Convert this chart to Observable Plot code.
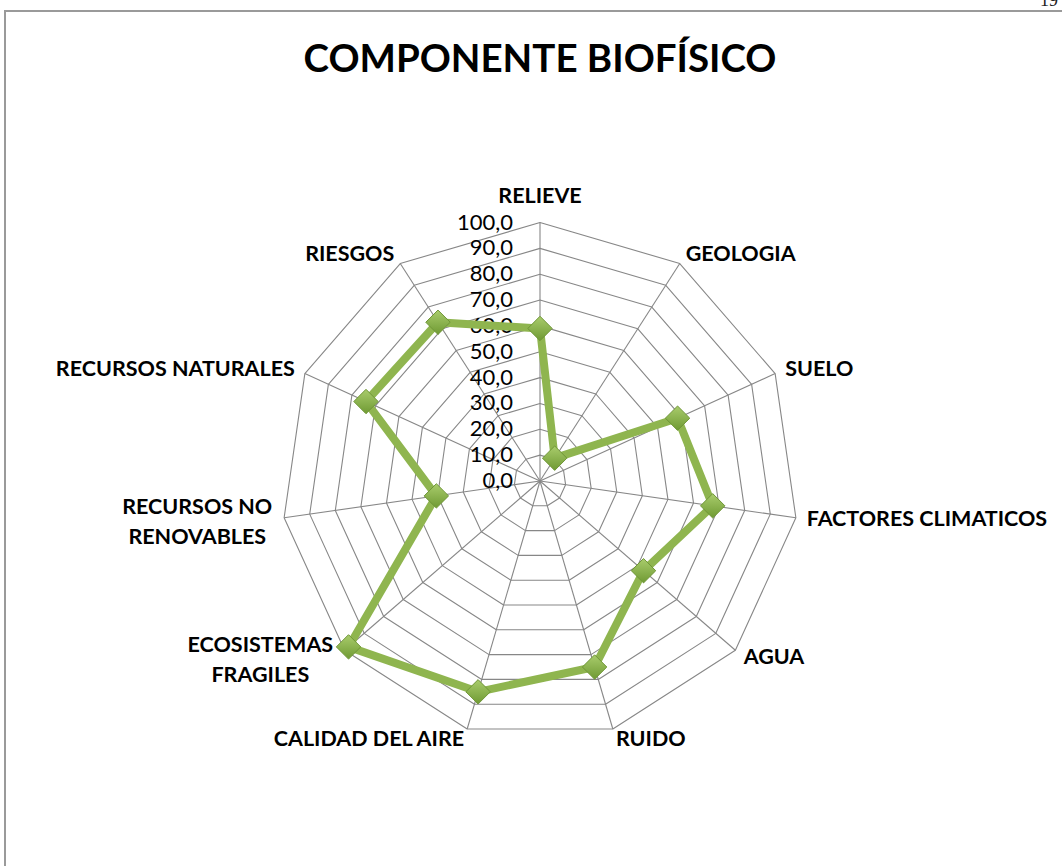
<!DOCTYPE html>
<html>
<head>
<meta charset="utf-8">
<script src="https://cdn.jsdelivr.net/npm/d3@7"></script>
<script src="https://cdn.jsdelivr.net/npm/@observablehq/plot@0.6"></script>
<style>
  html, body { margin: 0; padding: 0; background: #fff; }
  #wrap { position: relative; width: 1062px; height: 866px; overflow: hidden; }
  #frame { position: absolute; left: 4px; top: 10px; width: 1200px; height: 1000px;
           border-top: 2px solid #9a9a9a; border-left: 2px solid #9a9a9a; }
  #page { position: absolute; right: 4px; top: -9px; font: 18px "Liberation Serif", serif; color: #222; line-height: 18px; }
  #title { position: relative; height: 100px; width: 1062px; text-align: center; }
  #title span { position: absolute; left: 0; width: 1080px; top: 34px; text-align: center;
                font: bold 38.5px Lato, "Open Sans", sans-serif; color: #000; }
  #chart { position: relative; }
</style>
</head>
<body>
<div id="wrap">
  <div id="frame"></div>
  <div id="page">19</div>
  <div id="title"><span>COMPONENTE BIOFÍSICO</span></div>
  <div id="chart"></div>
</div>
<script>
// ---- data ----
const categories = ["RELIEVE", "GEOLOGIA", "SUELO", "FACTORES CLIMATICOS", "AGUA", "RUIDO",
  "CALIDAD DEL AIRE", "ECOSISTEMAS\nFRAGILES", "RECURSOS NO\nRENOVABLES", "RECURSOS NATURALES", "RIESGOS"];
const values = [59, 10.5, 58.5, 67.5, 53, 75, 85, 98, 40.5, 74, 73];
const tickValues = [0, 10, 20, 30, 40, 50, 60, 70, 80, 90, 100];
const tickLabels = ["0,0", "10,0", "20,0", "30,0", "40,0", "50,0", "60,0", "70,0", "80,0", "90,0", "100,0"];

// ---- layout ----
const W = 1062, H = 766;
const cx = 539.5, cy = 380.5, R = 258.5; // px of centre and radius for 100
const k = R / 100;
const n = categories.length;
const ang = i => (i * 2 * Math.PI) / n;
const px = (i, v) => v * Math.sin(ang(i));
const py = (i, v) => v * Math.cos(ang(i));

const series = categories.map((c, i) => ({c, i, v: values[i], x: px(i, values[i]), y: py(i, values[i])}));
const rings = [];
for (const t of tickValues.slice(1)) categories.forEach((c, i) => rings.push({t, x: px(i, t), y: py(i, t)}));
const spokes = categories.map((c, i) => ({x: px(i, 100), y: py(i, 100)}));
const labR = 100 + 11 / k;
const labels = categories.map((c, i) => ({c, i, x: px(i, labR), y: py(i, labR)}));
const rightLabs = labels.filter(d => d.i >= 1 && d.i <= 5);
const leftLabs = labels.filter(d => d.i >= 6 && !d.c.includes("\n"));
const leftMulti = labels.filter(d => d.c.includes("\n"));
const ticks = tickValues.map((t, j) => ({t, label: tickLabels[j]}));

const font = "Lato, 'Open Sans', sans-serif";
const fs = 21.5;
const chart = Plot.plot({
  width: W, height: H, margin: 0,
  style: {background: "transparent", overflow: "visible"},
  x: {domain: [-cx / k, (W - cx) / k], axis: null},
  y: {domain: [-(H - cy) / k, cy / k], axis: null},
  marks: [
    Plot.line(rings, {x: "x", y: "y", z: "t", curve: "linear-closed", stroke: "#878787", strokeWidth: 1.1}),
    Plot.link(spokes, {x1: 0, y1: 0, x2: "x", y2: "y", stroke: "#878787", strokeWidth: 1.1}),
    Plot.text(ticks, {x: 0, y: "t", text: "label", textAnchor: "end", dx: -27, fontSize: 22,
      fontFamily: font, fill: "#000"}),
    Plot.line(series, {x: "x", y: "y", curve: "linear-closed", stroke: "#8fb54f", strokeWidth: 8,
      strokeLinejoin: "miter"}),
    Plot.dot(series, {x: "x", y: "y", symbol: "diamond2", r: 11, fill: "url(#mk)", stroke: "#6f9637",
      strokeWidth: 1}),
    Plot.text(labels.filter(d => d.i === 0), {x: "x", y: "y", text: "c", textAnchor: "middle", dy: -15,
      fontSize: fs, fontWeight: "bold", fontFamily: font, fill: "#000"}),
    Plot.text(rightLabs, {x: "x", y: "y", text: "c", textAnchor: "start", fontSize: fs,
      fontWeight: "bold", fontFamily: font, fill: "#000"}),
    Plot.text(leftLabs, {x: "x", y: "y", text: "c", textAnchor: "end", fontSize: fs,
      fontWeight: "bold", fontFamily: font, fill: "#000"}),
    Plot.text(leftMulti, {x: "x", y: "y", text: "c", textAnchor: "middle", dx: -76, lineHeight: 1.4,
      fontSize: fs, fontWeight: "bold", fontFamily: font, fill: "#000"})
  ]
});
const defs = d3.select(chart).insert("defs", ":first-child");
const g = defs.append("linearGradient").attr("id", "mk").attr("x1", 0).attr("y1", 0).attr("x2", 0).attr("y2", 1);
g.append("stop").attr("offset", "0%").attr("stop-color", "#a9cc6c");
g.append("stop").attr("offset", "100%").attr("stop-color", "#6f9a33");
document.getElementById("chart").append(chart);
</script>
</body>
</html>
